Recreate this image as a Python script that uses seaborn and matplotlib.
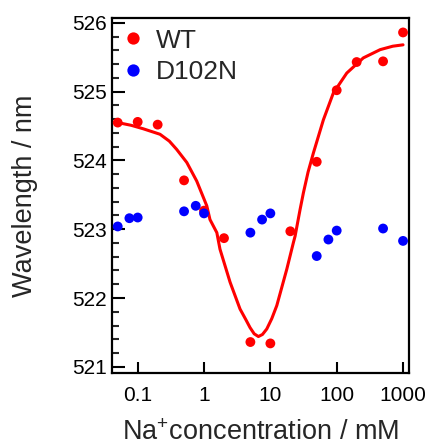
import numpy as np
import pandas as pd
import matplotlib
matplotlib.use("Agg")
import matplotlib.pyplot as plt
import seaborn as sns
from matplotlib.ticker import FixedLocator, MultipleLocator, NullLocator

# ---- data ----
wt_conc = [0.05, 0.1, 0.2, 0.5, 1, 2, 5, 10, 20, 50, 100, 200, 500, 1000]
wt_wl = [524.55, 524.56, 524.52, 523.71, 523.27, 522.87, 521.36, 521.34,
         522.97, 523.98, 525.02, 525.43, 525.44, 525.86]

d102n_conc = [0.05, 0.075, 0.1, 0.5, 0.75, 1, 5, 7.5, 10, 50, 75, 100, 500, 1000]
d102n_wl = [523.04, 523.16, 523.17, 523.26, 523.34, 523.23, 522.95, 523.14,
            523.23, 522.61, 522.85, 522.98, 523.01, 522.83]

# fitted curve for WT
fit_conc = [0.05, 0.08, 0.121, 0.217, 0.3, 0.387, 0.55, 0.776, 1.1, 1.23, 1.56,
            1.74, 2.47, 3.49, 4.3, 4.94, 5.7, 6.6, 7.6, 8.83, 10.5, 12.5, 17.7,
            22.3, 23.6, 28.1, 31.5, 37, 44.6, 63, 89, 142, 252, 452, 700, 1000]
fit_wl = [524.55, 524.51, 524.46, 524.38, 524.28, 524.16, 523.97, 523.70, 523.34,
          523.14, 522.95, 522.71, 522.23, 521.84, 521.68, 521.57, 521.48, 521.44,
          521.47, 521.55, 521.70, 521.89, 522.42, 522.81, 522.90, 523.29, 523.53,
          523.83, 524.11, 524.59, 524.98, 525.27, 525.49, 525.61, 525.66, 525.68]

x_ticks = [0.1, 1, 10, 100, 1000]
x_ticklabels = ["0.1", "1", "10", "100", "1000"]
y_ticks = [521, 522, 523, 524, 525, 526]

# ---- style ----
sns.set_style("ticks")
plt.rcParams["font.family"] = ["Liberation Sans", "DejaVu Sans"]
plt.rcParams["mathtext.fontset"] = "custom"
plt.rcParams["mathtext.rm"] = "Liberation Sans"
plt.rcParams["mathtext.it"] = "Liberation Sans"

df_wt = pd.DataFrame({"conc": wt_conc, "wl": wt_wl, "sample": "WT"})
df_d = pd.DataFrame({"conc": d102n_conc, "wl": d102n_wl, "sample": "D102N"})
df_fit = pd.DataFrame({"conc": fit_conc, "wl": fit_wl})

fig = plt.figure(figsize=(4.31, 4.48), dpi=100)
ax = fig.add_axes([112 / 431, 75 / 448, (409 - 112) / 431, (373 - 18) / 448])

sns.lineplot(data=df_fit, x="conc", y="wl", ax=ax, color="#ff0000", lw=2.2,
             sort=False, zorder=2, legend=False, solid_joinstyle="round",
             solid_capstyle="round")
df_all = pd.concat([df_wt, df_d], ignore_index=True)
sns.scatterplot(data=df_all, x="conc", y="wl", hue="sample",
                palette={"WT": "#ff0000", "D102N": "#0000ff"},
                s=50, linewidth=0, ax=ax, zorder=3)

ax.set_xscale("log")
ax.set_xlim(0.041, 1230)
ax.set_ylim(520.91, 526.07)
ax.xaxis.set_major_locator(FixedLocator(x_ticks))
ax.set_xticklabels(x_ticklabels)
ax.xaxis.set_minor_locator(NullLocator())
ax.yaxis.set_major_locator(FixedLocator(y_ticks))
ax.yaxis.set_minor_locator(MultipleLocator(0.2))
ax.set_yticklabels([str(v) for v in y_ticks])

ax.tick_params(axis="both", which="major", direction="in", width=1.5,
               labelsize=15, color="black", labelcolor="black")
ax.tick_params(axis="x", which="major", length=8, pad=9, top=False)
ax.tick_params(axis="y", which="major", length=9, pad=4, right=False)
ax.tick_params(axis="y", which="minor", direction="in", length=5, width=1.5,
               right=False)
for sp in ax.spines.values():
    sp.set_visible(True)
    sp.set_linewidth(1.6)
    sp.set_color("black")

ax.set_xlabel("Na$^{+}$concentration / mM", fontsize=19.5, labelpad=11)
ax.set_ylabel("Wavelength / nm", fontsize=19.5, labelpad=24)

leg = ax.legend(loc="upper left", bbox_to_anchor=(0.0, 1.0), frameon=False,
                fontsize=19, handlelength=0.8, handletextpad=0.45,
                borderaxespad=0.1, labelspacing=0.3, markerscale=1.25,
                borderpad=0.3)

fig.savefig("out.png", dpi=100)
